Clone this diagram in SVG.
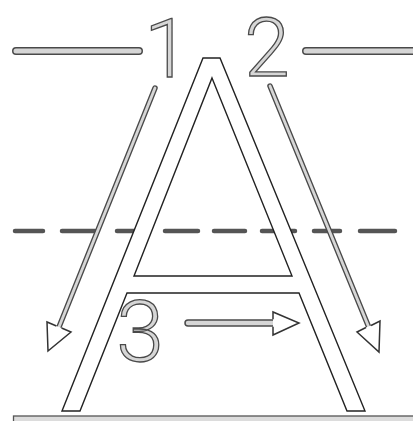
<svg xmlns="http://www.w3.org/2000/svg" width="413" height="421" viewBox="0 0 413 421">
<style>
.o{fill:none;stroke:#4a4a4a;stroke-linecap:round}
.i{fill:none;stroke:#d6d6d6;stroke-linecap:round}
.dash{fill:none;stroke:#555;stroke-width:4.5;stroke-linecap:round}
.head{fill:#fff;stroke:#333;stroke-width:1.5;stroke-linejoin:miter}
.letter{fill:#fff;stroke:#222;stroke-width:1.4;stroke-linejoin:miter}
.num{font-family:Roboto,"Liberation Sans",sans-serif;font-weight:300;font-size:82px;fill:#d6d6d6;stroke:#4a4a4a;stroke-width:1.3;text-anchor:middle}
</style>
<rect width="413" height="421" fill="#fff"/>
<g id="guides">
<path class="o" stroke-width="8" d="M16,51H139M306,51H416"/>
<path class="i" stroke-width="5" d="M16,51H139M306,51H416"/>
<path class="dash" d="M15,231H43M62,231H95M117,231H147M165,231H198M214,231H245M262,231H295M314,231H340M360,231H395"/>
<rect x="13.5" y="416" width="410" height="10" fill="#dcdcdc" stroke="#555" stroke-width="1.3"/>
</g>
<g id="letter-A">
<path class="letter" fill-rule="evenodd" d="M62,411L203,58H220L365,411H347L299,293H127L80,411Z M212,78L292,276H134Z"/>
</g>
<g id="connectors">
<g id="arrow-1">
<path class="o" stroke-width="5.5" d="M155,88L59,327"/>
<path class="i" stroke-width="2.8" d="M155,88L59,327"/>
<path class="head" d="M56.45,325.98L47,322L48,351L71,332L61.55,328.02"/>
</g>
<g id="arrow-2">
<path class="o" stroke-width="5.5" d="M270,86L368.5,326.5"/>
<path class="i" stroke-width="2.8" d="M270,86L368.5,326.5"/>
<path class="head" d="M365.96,327.54L357,332L379,352L380,321L371.04,325.46"/>
</g>
<g id="arrow-3">
<path class="o" stroke-width="7.5" d="M188,323H275"/>
<path class="i" stroke-width="4.5" d="M188,323H275"/>
<path class="head" d="M273,319.2L273,312L299,323L273,335L273,326.8"/>
</g>
</g>
<g id="label-1"><text class="num" x="167" y="76.5">1</text></g>
<g id="label-2"><text class="num" x="267" y="76">2</text></g>
<g id="label-3"><text class="num" x="140" y="361" style="font-size:86px">3</text></g>
</svg>
